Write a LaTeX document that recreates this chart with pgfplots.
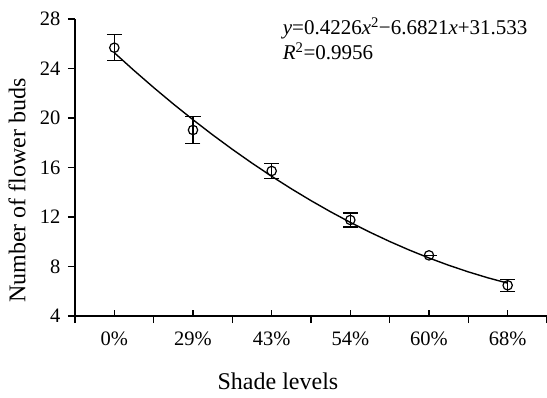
\documentclass[border=0pt]{standalone}
\usepackage{fontspec}
\setmainfont{Liberation Serif}
\usepackage{pgfplots}
\usepackage{pgfplotstable}
\pgfplotsset{compat=1.18}

\pgfplotstableread{
x y e
1 25.68 1.04
2 19.03 1.12
3 15.72 0.60
4 11.76 0.57
5 8.90 0.00
6 6.48 0.50
}\obs

\pgfplotstableread{
x f
1.00 25.2735
1.25 23.8407
1.50 22.4607
1.75 21.1335
2.00 19.8592
2.25 18.6377
2.50 17.4690
2.75 16.3531
3.00 15.2901
3.25 14.2799
3.50 13.3225
3.75 12.4179
4.00 11.5662
4.25 10.7673
4.50 10.0212
4.75 9.3279
5.00 8.6875
5.25 8.0999
5.50 7.5651
5.75 7.0831
6.00 6.6540
}\fit

\begin{document}
\begin{tikzpicture}
\begin{axis}[
  scale only axis, width=472bp, height=297bp,
  xmin=0.5, xmax=6.5, ymin=4, ymax=28,
  axis lines*=left,
  axis line style={line width=1.2bp, black},
  every tick/.style={black, line width=1.2bp},
  tick align=outside,
  major tick length=7bp,
  xtick={0.5,1.5,...,6.5},
  xticklabels={},
  extra x ticks={1,2,3,4,5,6},
  extra x tick labels={0\%,29\%,43\%,54\%,60\%,68\%},
  extra x tick style={tick align=inside, major tick length=6bp},
  ytick={4,8,...,28},
  tick label style={font=\fontsize{20.5bp}{24bp}\selectfont},
  xticklabel style={yshift=-12bp},
  yticklabel style={xshift=-4bp},
  /pgf/number format/assume math mode=true,
  xlabel={Shade levels},
  ylabel={Number of flower buds},
  label style={font=\fontsize{24bp}{28bp}\selectfont},
  xlabel style={at={(axis description cs:0.43,-0.249)}, anchor=base},
  ylabel style={at={(axis description cs:-0.105,0.4226)}, anchor=base},
  clip=false,
]
\addplot[black, line width=1.4bp, no marks] table[x=x, y=f] {\fit};
\addplot[black, only marks, mark=o, mark size=4.7bp, line width=1.2bp,
  error bars/.cd, y dir=both, y explicit,
  error bar style={line width=1.2bp, black},
  error mark options={rotate=90, mark size=7.5bp, line width=1.2bp, black}]
  table[x=x, y=y, y error=e] {\obs};
\node[anchor=base west, font=\fontsize{21bp}{25bp}\selectfont, inner sep=0pt]
  at (axis cs:3.14,26.71) {\textit{y}=0.4226\textit{x}\textsuperscript{2}−6.6821\textit{x}+31.533};
\node[anchor=base west, font=\fontsize{21bp}{25bp}\selectfont, inner sep=0pt]
  at (axis cs:3.14,24.69) {\textit{R}\textsuperscript{2}=0.9956};
\end{axis}
\pgfresetboundingbox
\path (current axis.south west) ++(-75bp,-82bp) coordinate (bl);
\path (current axis.north east) ++(0bp,19bp) coordinate (tr);
\path[use as bounding box] (bl) rectangle (tr);
\end{tikzpicture}
\end{document}
